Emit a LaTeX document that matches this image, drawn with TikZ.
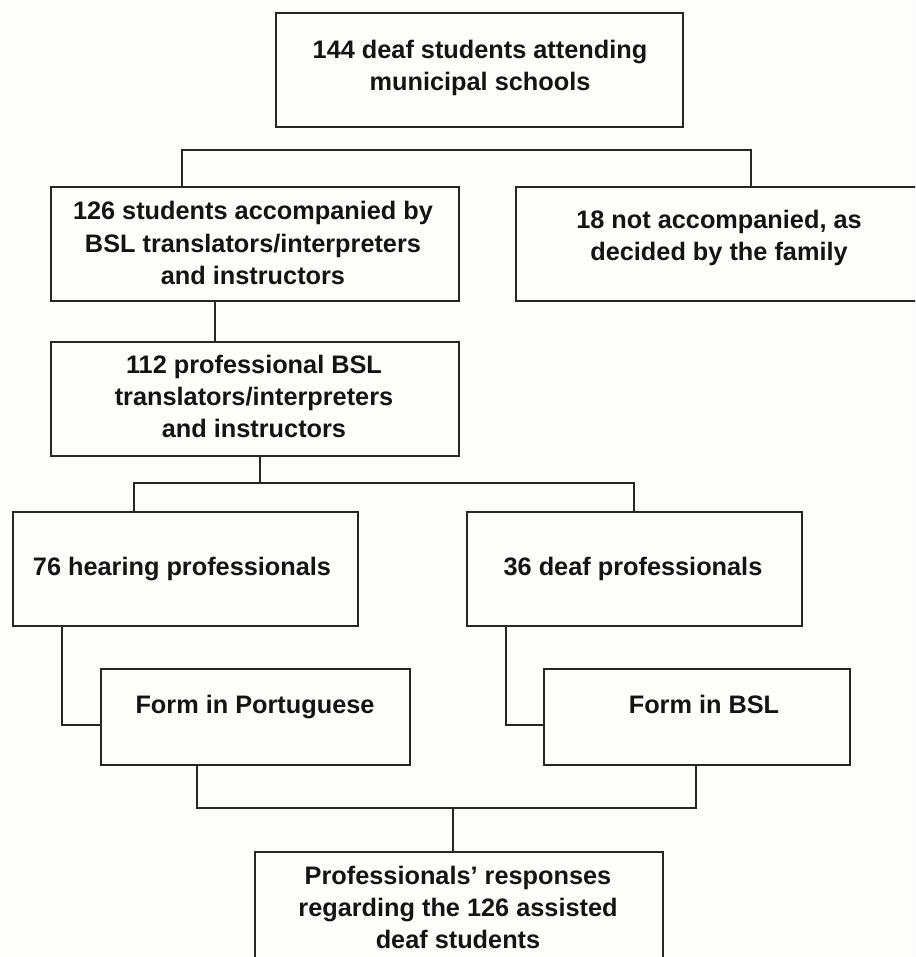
\documentclass[tikz,border=0pt]{standalone}
\usepackage{fontspec}
\setmainfont{Liberation Sans}
\definecolor{linec}{HTML}{262626}
\definecolor{textc}{HTML}{141414}
\definecolor{bgc}{HTML}{FDFDFB}
\begin{document}
\begin{tikzpicture}[x=1pt,y=-1pt,
  box/.style={draw=linec, line width=1.8pt, rectangle, inner sep=0pt, outer sep=0pt},
  lbl/.style={font=\bfseries\fontsize{25.3}{32}\selectfont, align=center, anchor=base, inner sep=0pt, text=textc},
  conn/.style={draw=linec, line width=1.6pt}]
\fill[bgc] (0,0) rectangle (915,957);
\useasboundingbox (0,0) rectangle (915,957);
\clip (0,0) rectangle (915,957);
% boxes
\node[box, minimum width=407, minimum height=114] (top) at (479.5,70) {};
\node[box, minimum width=408, minimum height=114] (acc) at (255,244) {};
\node[box, minimum width=414, minimum height=114] (notacc) at (723,244) {};
\node[box, minimum width=408, minimum height=114] (prof) at (255,399) {};
\node[box, minimum width=345, minimum height=114] (hear) at (185.5,569) {};
\node[box, minimum width=335, minimum height=114] (deafp) at (634.5,569) {};
\node[box, minimum width=309, minimum height=96] (formP) at (255.5,717) {};
\node[box, minimum width=306, minimum height=96] (formB) at (697,717) {};
\node[box, minimum width=408, minimum height=114] (resp) at (459,909) {};
% texts (anchor base = baseline of the last line)
\node[lbl] (ttop) at (480,91) {144 deaf students attending\\municipal schools};
\node[lbl] (tacc) at (253,284) {126 students accompanied by\\BSL translators/interpreters\\and instructors};
\node[lbl] (tnotacc) at (719,261) {18 not accompanied, as\\decided by the family};
\node[lbl] (tprof) at (254,437) {112 professional BSL\\translators/interpreters\\and instructors};
\node[lbl] (thear) at (182,575) {76 hearing professionals};
\node[lbl] (tdeafp) at (633,575) {36 deaf professionals};
\node[lbl] (tformP) at (255,713) {Form in Portuguese};
\node[lbl] (tformB) at (704,713) {Form in BSL};
\node[lbl] (tresp) at (458,948) {Professionals’ responses\\regarding the 126 assisted\\deaf students};
% junction coordinates
\coordinate (j1L) at (182,150);
\coordinate (j1R) at (751,150);
\coordinate (j2) at (215,320);
\coordinate (j3s) at (260,483);
\coordinate (j3L) at (134,483);
\coordinate (j3R) at (634,483);
\coordinate (j4) at (62,725);
\coordinate (j5) at (506,725);
\coordinate (j6L) at (197,808);
\coordinate (j6R) at (696,808);
\coordinate (j6s) at (453,808);
% connectors
\draw[conn] (j1L |- acc.north) -- (j1L) -- (j1R) -- (j1R |- notacc.north);
\draw[conn] (j2 |- acc.south) -- (j2 |- prof.north);
\draw[conn] (j3s |- prof.south) -- (j3s);
\draw[conn] (j3L |- hear.north) -- (j3L) -- (j3R) -- (j3R |- deafp.north);
\draw[conn] (j4 |- hear.south) -- (j4) -- (formP.west |- j4);
\draw[conn] (j5 |- deafp.south) -- (j5) -- (formB.west |- j5);
\draw[conn] (j6L |- formP.south) -- (j6L) -- (j6R) -- (j6R |- formB.south);
\draw[conn] (j6s) -- (j6s |- resp.north);
\end{tikzpicture}
\end{document}
